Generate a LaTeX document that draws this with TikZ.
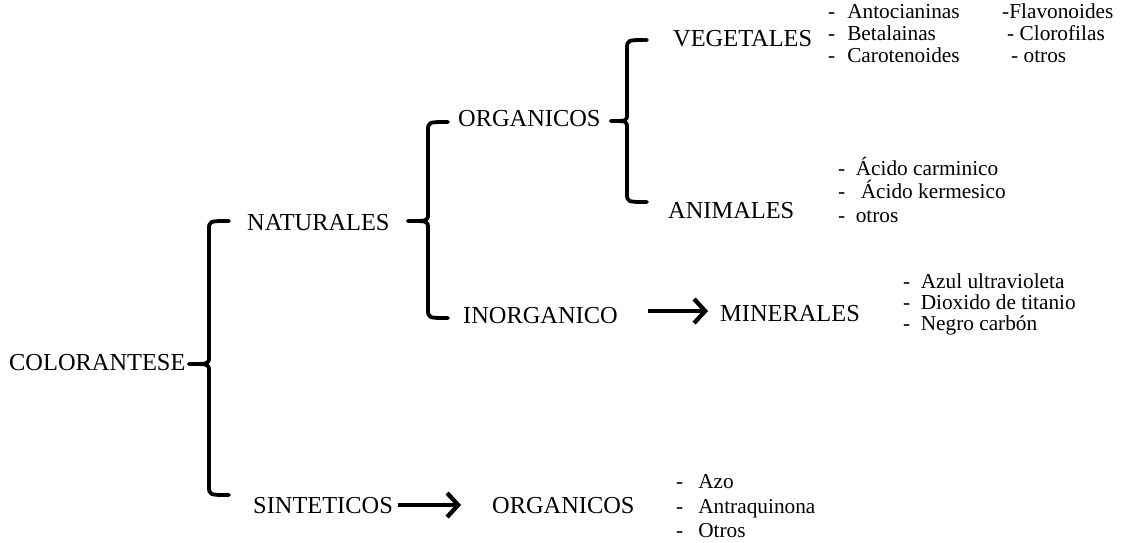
\documentclass[tikz,border=0pt]{standalone}
\usepackage{fontspec}
\setmainfont{Liberation Serif}
\usetikzlibrary{arrows.meta}
\begin{document}
\begin{tikzpicture}[x=1pt,y=-1pt,
  big/.style={inner sep=0pt,anchor=base west,font=\fontsize{24.4}{28}\selectfont},
  small/.style={inner sep=0pt,anchor=base west,font=\fontsize{21.3}{24}\selectfont},
  bracefig/.style={line width=3.8pt,line cap=round,line join=round},
  bigarrow/.style={line width=4.5pt,-{Straight Barb[length=11pt,width=24pt,line width=4.2pt]}},
  arrowshade/.style={bigarrow,draw=gray!55}]
\useasboundingbox (0,0) rectangle (1141,543);

% main labels
\node[big] (col) at (9,370) {COLORANTESE};
\node[big] (nat) at (247,230) {NATURALES};
\node[big] (sin) at (253,513) {SINTETICOS};
\node[big] (org1) at (458,126) {ORGANICOS};
\node[big] (inorg) at (463,323) {INORGANICO};
\node[big] (veg) at (673,47) {VEGETALES};
\node[big] (ani) at (668,218) {ANIMALES};
\node[big] (min) at (720,321) {MINERALES};
\node[big] (org2) at (492,513) {ORGANICOS};

% lists
\node[small] (v1) at (828,19) {-\hspace{12pt}Antocianinas};
\node[small] (v2) at (828,41) {-\hspace{12pt}Betalainas};
\node[small] (v3) at (828,63) {-\hspace{12pt}Carotenoides};
\node[small] (v4) at (1002,19) {-Flavonoides};
\node[small] (v5) at (1007,41) {- Clorofilas};
\node[small] (v6) at (1011,63) {- otros};

\node[small] (a1) at (838,175) {-\hspace{10.5pt}Ácido carminico};
\node[small] (a2) at (838,198) {-\hspace{15.5pt}Ácido kermesico};
\node[small] (a3) at (838,222) {-\hspace{10.5pt}otros};

\node[small] (m1) at (903,288) {-\hspace{10.5pt}Azul ultravioleta};
\node[small] (m2) at (903,309) {-\hspace{10.5pt}Dioxido de titanio};
\node[small] (m3) at (903,330) {-\hspace{10.5pt}Negro carbón};

\node[small] (s1) at (676,488) {-\hspace{15pt}Azo};
\node[small] (s2) at (676,513) {-\hspace{15pt}Antraquinona};
\node[small] (s3) at (676,537) {-\hspace{15pt}Otros};

% braces
\newcommand{\mybrace}[5]{% xv, top, tipy, bot, xtip
  \draw[bracefig] (#1+20,#2) .. controls (#1,#2) .. (#1,#2+9) -- (#1,#3-7)
     .. controls (#1,#3) .. (#5,#3);
  \draw[bracefig] (#5,#3) .. controls (#1,#3) .. (#1,#3+7) -- (#1,#4-9)
     .. controls (#1,#4) .. (#1+20,#4);
}
\mybrace{209}{221}{364}{495}{189}
\mybrace{428}{122}{221}{318}{408}
\mybrace{627}{40}{121}{202}{611}

% arrows
\begin{scope}[shift={(1.8,2.2)}]
\draw[arrowshade,shorten <=5pt,shorten >=31pt] (sin.east) -- (sin.east -| org2.west);
\draw[arrowshade,shorten <=30pt,shorten >=12pt] ([yshift=4pt]inorg.east) -- ([yshift=4pt]inorg.east -| min.west);
\end{scope}
\draw[bigarrow,shorten <=5pt,shorten >=31pt] (sin.east) -- (sin.east -| org2.west);
\draw[bigarrow,shorten <=30pt,shorten >=12pt] ([yshift=4pt]inorg.east) -- ([yshift=4pt]inorg.east -| min.west);
\end{tikzpicture}
\end{document}
